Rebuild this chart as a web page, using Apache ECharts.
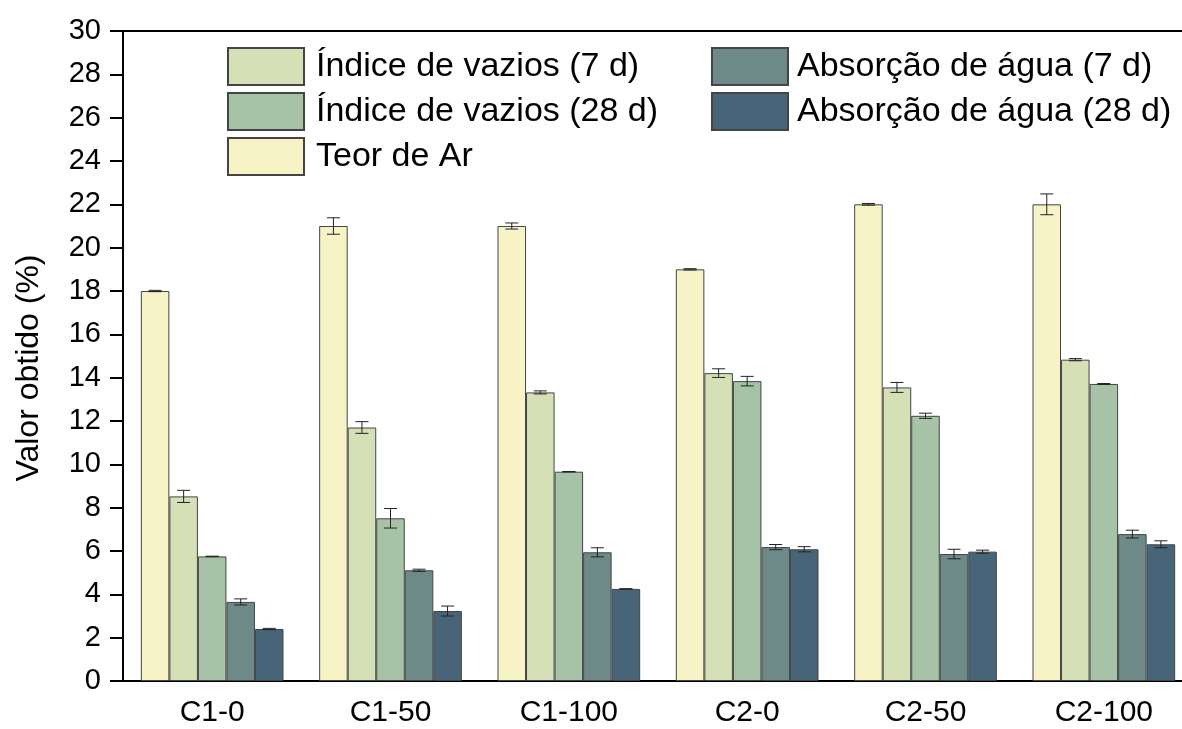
<!DOCTYPE html>
<html>
<head>
<meta charset="utf-8">
<script src="https://cdn.jsdelivr.net/npm/echarts@6/dist/echarts.min.js"></script>
<style>html,body{margin:0;padding:0;background:#fff;overflow:hidden;width:1182px;height:729px;}#c{width:1193px;height:729px;}</style>
</head>
<body>
<div id="c"></div>
<script>
const categories = ['C1-0', 'C1-50', 'C1-100', 'C2-0', 'C2-50', 'C2-100'];
const seriesNames = ['Teor de Ar', 'Índice de vazios (7 d)', 'Índice de vazios (28 d)', 'Absorção de água (7 d)', 'Absorção de água (28 d)'];
const teorAr = [18.0, 21.0, 21.0, 19.0, 22.0, 22.0];
const teorArErr = [0.03, 0.38, 0.14, 0.03, 0.04, 0.48];
const indice7 = [8.52, 11.7, 13.32, 14.21, 13.55, 14.83];
const indice7Err = [0.28, 0.27, 0.07, 0.2, 0.23, 0.05];
const indice28 = [5.75, 7.51, 9.66, 13.84, 12.24, 13.71];
const indice28Err = [0.01, 0.45, 0.01, 0.22, 0.12, 0.02];
const absorcao7 = [3.65, 5.11, 5.94, 6.18, 5.86, 6.78];
const absorcao7Err = [0.14, 0.05, 0.21, 0.12, 0.22, 0.18];
const absorcao28 = [2.4, 3.23, 4.25, 6.08, 5.97, 6.31];
const absorcao28Err = [0.03, 0.23, 0.01, 0.12, 0.07, 0.16];
const yTicks = { min: 0, max: 30, interval: 2 };

const colors = ['#F7F3C6', '#D5E0B6', '#A6C3A7', '#6D8A88', '#486479'];
const values = [teorAr, indice7, indice28, absorcao7, absorcao28];
const errors = [teorArErr, indice7Err, indice28Err, absorcao7Err, absorcao28Err];
const nSeries = values.length;
const catGapRatio = 0.2;

const chart = echarts.init(document.getElementById('c'), null, { renderer: 'canvas' });
const font = "'Liberation Sans', Arial, sans-serif";

const series = [];
values.forEach((vals, i) => {
  series.push({
    name: seriesNames[i],
    type: 'bar',
    data: vals,
    barGap: '0%',
    barCategoryGap: '20%',
    itemStyle: { color: colors[i], borderColor: '#444', borderWidth: 1 },
    z: 2
  });
});
values.forEach((vals, i) => {
  series.push({
    type: 'custom',
    name: 'err' + i,
    data: vals.map((v, k) => [k, v, errors[i][k]]),
    z: 5,
    silent: true,
    renderItem: function (params, api) {
      const k = api.value(0), v = api.value(1), e = api.value(2);
      const band = api.size([1, 0])[0];
      const bw = band * (1 - catGapRatio) / nSeries;
      const cx = api.coord([k, v])[0] + (i - (nSeries - 1) / 2) * bw;
      const yHi = api.coord([k, v + e])[1];
      const yLo = api.coord([k, v - e])[1];
      const cap = 6.5;
      const st = { stroke: '#222', lineWidth: 1 };
      return {
        type: 'group',
        children: [
          { type: 'line', shape: { x1: cx, y1: yHi, x2: cx, y2: yLo }, style: st },
          { type: 'line', shape: { x1: cx - cap, y1: yHi, x2: cx + cap, y2: yHi }, style: st },
          { type: 'line', shape: { x1: cx - cap, y1: yLo, x2: cx + cap, y2: yLo }, style: st }
        ]
      };
    }
  });
});

chart.setOption({
  animation: false,
  backgroundColor: '#fff',
  grid: { left: 123, right: 0, top: 31, bottom: 48, show: true, borderColor: '#000', borderWidth: 2, containLabel: false },
  legend: [
    {
      left: 227, top: 47, padding: 0, orient: 'vertical', itemWidth: 76, itemHeight: 37, itemGap: 6,
      icon: 'rect', data: [seriesNames[1], seriesNames[2], seriesNames[0]],
      textStyle: { fontFamily: font, fontSize: 34, color: '#000', padding: [0, 0, 0, 7] }
    },
    {
      left: 711, top: 47, padding: 0, orient: 'vertical', itemWidth: 76, itemHeight: 37, itemGap: 6,
      icon: 'rect', data: [seriesNames[3], seriesNames[4]],
      textStyle: { fontFamily: font, fontSize: 34, color: '#000', padding: [0, 0, 0, 4] }
    }
  ],
  xAxis: {
    type: 'category',
    data: categories,
    axisLine: { lineStyle: { color: '#000', width: 2 } },
    axisTick: { alignWithLabel: true, length: 10, lineStyle: { color: '#000', width: 2 } },
    axisLabel: { fontFamily: font, fontSize: 30, color: '#000', margin: 17 }
  },
  yAxis: {
    type: 'value',
    min: yTicks.min, max: yTicks.max, interval: yTicks.interval,
    name: 'Valor obtido (%)',
    nameLocation: 'middle',
    nameGap: 78,
    nameTextStyle: { fontFamily: font, fontSize: 32, color: '#000', padding: [0, 24, 0, 0] },
    splitLine: { show: false },
    axisLine: { show: true, lineStyle: { color: '#000', width: 2 } },
    axisTick: { show: true, length: 13, lineStyle: { color: '#000', width: 2 } },
    axisLabel: { fontFamily: font, fontSize: 29, color: '#000', margin: 22 }
  },
  series: series
});
</script>
</body>
</html>
